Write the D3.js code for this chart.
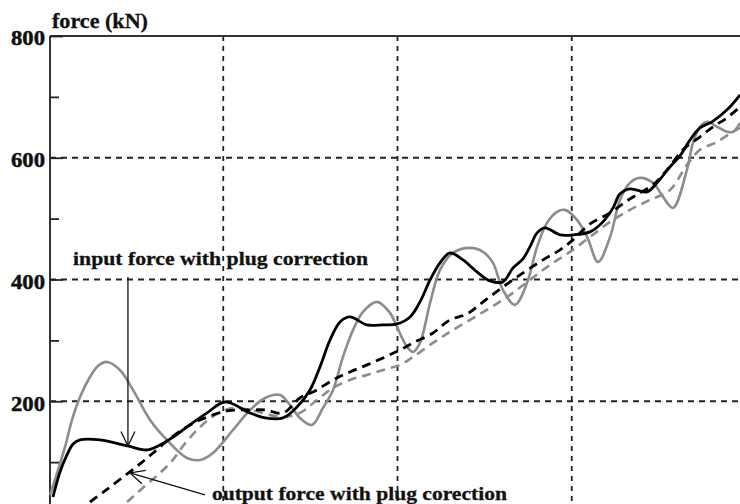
<!DOCTYPE html>
<html><head><meta charset="utf-8">
<script src="https://cdn.jsdelivr.net/npm/d3@7"></script>
<style>html,body{margin:0;padding:0;background:#fff;overflow:hidden}</style>
</head><body>
<svg id="c" width="740" height="504"></svg>
<script>
// ---- data ----
const xGrid = [10, 20, 30];
const yMajor = [200, 400, 600, 800];
const yMinor = [100, 300, 500, 700];
const yLabel = "force (kN)";

// input force with plug correction (black solid)
const inCorrX = [0.23,0.63,1.03,1.38,1.78,2.93,4.53,5.62,6.37,7.23,7.92,9.07,10.10,11.54,12.40,13.43,14.23,14.98,15.55,16.13,16.70,17.27,18.25,19.17,19.97,20.72,21.29,21.87,22.44,23.01,23.76,24.56,25.31,26.05,26.63,27.20,27.60,28.01,28.46,29.33,30.07,31.05,31.79,32.37,32.77,33.34,34.32,34.89,35.64,36.21,36.79,37.36,38.05,38.91,39.66];
const inCorrY = [42.7,83.8,111.8,129.8,136.4,136.4,126.5,120.0,128.2,143,157.8,180.8,198.8,180.8,172.6,172.6,190.6,218.6,256.4,300.7,330.3,338.5,325.4,325.4,327.0,338.5,363.2,399.3,427.3,443.7,432.2,412.5,397.7,396.1,419.1,433.9,453.6,476.6,484.8,473.3,473.3,478.2,494.7,517.7,540.7,548.9,544.0,558.8,585.0,603.1,629.4,649.1,659.0,678.7,703.4];

// input force (grey solid)
const inRawX = [0.06,0.52,0.92,1.32,1.78,2.35,2.81,3.33,4.07,4.82,5.80,6.77,7.92,8.67,9.41,10.56,11.54,12.40,13.26,13.83,14.40,15.09,15.72,16.30,16.87,17.45,18.02,18.82,19.57,19.97,20.55,20.89,21.29,21.87,22.44,23.18,24.16,24.91,25.48,26.05,26.74,27.43,28.01,28.58,29.15,29.61,30.30,30.88,31.51,32.20,32.77,33.34,33.92,34.66,35.24,35.81,36.61,36.96,37.36,37.76,38.34,38.91,39.25,39.66];
const inRawY = [46.0,87.1,124.9,169.3,207.1,239.9,258.0,264.6,251.4,218.6,169.3,136.4,106.8,103.5,115.0,152.8,185.7,205.4,210.4,193.9,172.6,161.1,189.0,218.6,272.8,317.2,346.8,363.2,345.1,322.1,289.2,281.0,295.8,361.5,415.8,443.7,451.9,445.4,427.3,382.9,358.3,394.4,453.6,493.0,511.1,514.4,497.9,470.0,428.9,470.0,530.8,558.8,567.0,558.8,535.7,517.7,580.1,624.5,650.8,659.0,650.8,642.6,642.6,657.4];

// output force with plug correction (black dashed)
const outCorrX = [2.35,3.21,4.25,5.22,5.97,6.77,7.80,8.67,10.21,11.54,12.40,13.43,14.40,15.27,16.30,17.27,18.25,19.17,20.14,20.89,22.04,23.01,23.99,24.91,26.05,27.20,28.35,29.33,30.07,31.05,32.20,33.17,33.92,34.66,35.47,36.38,37.36,38.11,38.91,39.66];
const outCorrY = [34.5,52.6,75.6,97.0,115.0,134.8,156.1,169.3,184.1,185.7,185.7,180.8,205.4,216.9,235.0,248.2,259.7,271.2,284.3,295.8,312.2,333.6,343.5,363.2,387.8,410.8,432.2,448.6,465.1,491.4,509.4,529.2,542.3,555.5,580.1,613.0,634.3,650.8,665.6,683.6];

// output force (grey dashed)
const outRawX = [4.48,5.51,6.37,7.06,7.69,8.67,9.64,10.56,11.54,13.43,14.40,15.38,16.30,17.27,18.25,19.17,20.14,20.89,22.04,23.01,24.16,25.31,26.46,27.60,28.75,29.90,31.05,32.20,33.34,34.49,35.64,36.61,37.36,38.34,39.25,39.66];
const outRawY = [34.5,60.8,82.2,101.9,126.5,157.8,179.1,189.0,185.7,174.2,180.8,202.1,221.9,235.0,243.2,251.4,259.7,272.8,295.8,313.9,333.6,353.3,374.7,399.3,424.0,445.4,470.0,494.7,514.4,530.8,547.2,588.3,613.0,626.1,642.6,649.1];

// annotations (data space)
const note1 = {text: "input force with plug correction", x: 1.38, y: 424, from: [4.53, 404], to: [4.53, 126.5]};
const note2 = {text: "output force with plug corection", x: 9.35, y: 37, from: [8.95, 46.0], to: [4.65, 82.2]};

// ---- drawing ----
const svg = d3.select("#c");
const W = 740, H = 504;
const x = d3.scaleLinear().domain([0, 40]).range([49, 746]);
const y = d3.scaleLinear().domain([0, 800]).range([523, 36]);
const font = "'Liberation Serif','Times New Roman',serif";
const axisX = 50;

svg.append("rect").attr("width", W).attr("height", H).attr("fill", "#fff");

// gridlines
svg.append("g").selectAll("line").data(yMajor.filter(d => d < 800)).join("line")
  .attr("x1", axisX).attr("x2", W).attr("y1", d => y(d)).attr("y2", d => y(d))
  .attr("stroke", "#222").attr("stroke-width", 1.8).attr("stroke-dasharray", "6,5");
svg.append("g").selectAll("line").data(xGrid).join("line")
  .attr("x1", d => x(d)).attr("x2", d => x(d)).attr("y1", y(800)).attr("y2", H)
  .attr("stroke", "#222").attr("stroke-width", 1.8).attr("stroke-dasharray", "5,5");

// top frame
svg.append("line").attr("x1", axisX).attr("x2", W).attr("y1", y(800)).attr("y2", y(800))
  .attr("stroke", "#333").attr("stroke-width", 2);

// left axis
const ax = svg.append("g").attr("transform", `translate(${axisX},0)`)
  .call(d3.axisLeft(y).tickValues(yMajor).tickSizeInner(-13).tickSizeOuter(0).tickPadding(5).tickFormat(d3.format("d")));
ax.select(".domain").attr("stroke", "#333").attr("stroke-width", 2).attr("d", `M0,${y(800)}V${H}`);
ax.selectAll(".tick line").attr("stroke", "#222").attr("stroke-width", 1.8);
ax.selectAll(".tick text").attr("font-family", font).attr("font-weight", "bold")
  .attr("font-size", 22).attr("fill", "#111").attr("stroke", "#111").attr("stroke-width", 0.5)
  .attr("dy", "0.4em")
  .attr("textLength", 34).attr("lengthAdjust", "spacingAndGlyphs");
const axm = svg.append("g").attr("transform", `translate(${axisX},0)`)
  .call(d3.axisLeft(y).tickValues(yMinor).tickSizeInner(-9).tickSizeOuter(0).tickFormat(""));
axm.select(".domain").remove();
axm.selectAll(".tick line").attr("stroke", "#222").attr("stroke-width", 1.8);

svg.append("text").attr("x", 52).attr("y", 28).text(yLabel)
  .attr("font-family", font).attr("font-weight", "bold").attr("font-size", 20).attr("fill", "#111")
  .attr("stroke", "#111").attr("stroke-width", 0.3)
  .attr("textLength", 96).attr("lengthAdjust", "spacingAndGlyphs");

// series
const line = d3.line().x(d => x(d[0])).y(d => y(d[1])).curve(d3.curveCatmullRom.alpha(0.5));
const series = [
  {xs: outRawX, ys: outRawY, color: "#8c8c8c", w: 2.6, dash: "9,6"},
  {xs: inRawX, ys: inRawY, color: "#8c8c8c", w: 2.6, dash: null},
  {xs: outCorrX, ys: outCorrY, color: "#000", w: 2.8, dash: "9,6"},
  {xs: inCorrX, ys: inCorrY, color: "#000", w: 2.8, dash: null},
];
svg.append("g").selectAll("path").data(series).join("path")
  .attr("d", s => line(s.xs.map((v, i) => [v, s.ys[i]])))
  .attr("fill", "none").attr("stroke", s => s.color).attr("stroke-width", s => s.w)
  .attr("stroke-dasharray", s => s.dash).attr("stroke-linejoin", "round");

// annotations
function arrow(n) {
  const x1 = x(n.from[0]), y1 = y(n.from[1]), x2 = x(n.to[0]), y2 = y(n.to[1]);
  const g = svg.append("g").attr("stroke", "#111").attr("stroke-width", 1.3).attr("fill", "none");
  g.append("line").attr("x1", x1).attr("y1", y1).attr("x2", x2).attr("y2", y2);
  const a = Math.atan2(y1 - y2, x1 - x2), L = 16, h = 0.45;
  g.append("path").attr("d",
    `M${x2 + L * Math.cos(a - h)},${y2 + L * Math.sin(a - h)}L${x2},${y2}L${x2 + L * Math.cos(a + h)},${y2 + L * Math.sin(a + h)}`);
}
arrow(note1); arrow(note2);
[note1, note2].forEach(n => {
  svg.append("text").attr("x", x(n.x)).attr("y", y(n.y)).text(n.text)
    .attr("font-family", font).attr("font-weight", "bold").attr("font-size", 19).attr("fill", "#111")
    .attr("stroke", "#111").attr("stroke-width", 0.3)
    .attr("textLength", 295).attr("lengthAdjust", "spacingAndGlyphs");
});
</script>
</body></html>
